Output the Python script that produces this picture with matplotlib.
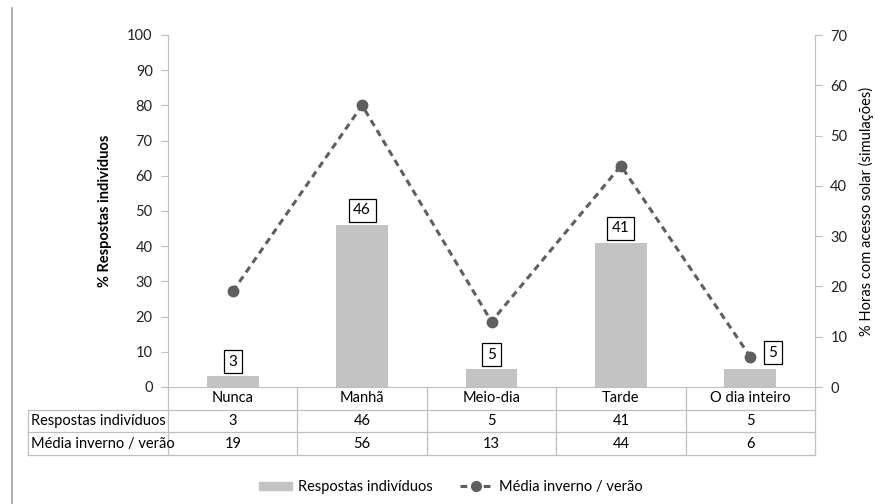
import numpy as np
import matplotlib.pyplot as plt
from matplotlib.lines import Line2D
from matplotlib.patches import Patch

plt.rcParams['font.family'] = ['Lato', 'DejaVu Sans']
plt.rcParams['font.size'] = 10.5

# Data
categorias = ['Nunca', 'Manhã', 'Meio-dia', 'Tarde', 'O dia inteiro']
respostas = [3, 46, 5, 41, 5]          # % respostas indivíduos (eixo esquerdo)
media_inv_ver = [19, 56, 13, 44, 6]    # % horas com acesso solar (eixo direito)
nome_barras = 'Respostas indivíduos'
nome_linha = 'Média inverno / verão'

BAR_COLOR = '#c3c3c3'
LINE_COLOR = '#5f5f5f'
AXIS_COLOR = '#bfbfbf'

W, H = 875, 504
fig = plt.figure(figsize=(W / 100, H / 100), dpi=100)

# plot area in pixels
x0, x1, ytop, ybot = 168, 815, 35, 387
ax = fig.add_axes([x0 / W, 1 - ybot / H, (x1 - x0) / W, (ybot - ytop) / H])
ax2 = ax.twinx()

x = np.arange(len(categorias))
bars = ax.bar(x, respostas, width=0.4, color=BAR_COLOR, zorder=2)
ax2.plot(x, media_inv_ver, color=LINE_COLOR, lw=2.2, ls=(0, (2.2, 1.6)),
         marker='o', ms=7.5, zorder=3)

ax.set_xlim(-0.5, len(categorias) - 0.5)
ax.set_ylim(0, 100)
ax.set_yticks(range(0, 101, 10))
ax2.set_ylim(0, 70)
ax2.set_yticks(range(0, 71, 10))
ax.set_xticks([])

for a in (ax, ax2):
    for s in a.spines.values():
        s.set_visible(False)
    a.tick_params(axis='y', length=5, width=0.8, color=AXIS_COLOR,
                  labelsize=10.5, labelcolor='#222222', pad=6)
ax.spines['left'].set_visible(True)
ax.spines['left'].set_color(AXIS_COLOR)
ax2.spines['right'].set_visible(True)
ax2.spines['right'].set_color(AXIS_COLOR)
ax.spines['bottom'].set_visible(True)
ax.spines['bottom'].set_color(AXIS_COLOR)

ax.set_ylabel('% Respostas indivíduos', fontweight='bold', fontsize=10.5,
              labelpad=11)
ax2.set_ylabel('% Horas com acesso solar (simulações)', fontsize=10.5,
               labelpad=8)

# value boxes above the bars
box = dict(boxstyle='square,pad=0.3', fc='white', ec='black', lw=0.9)
for i, v in enumerate(respostas):
    off = (0, 10.5) if i < len(respostas) - 1 else (16, 12)
    ax.annotate(str(v), (x[i], v), xytext=off, textcoords='offset points',
                ha='center', va='center', fontsize=11, bbox=box, zorder=5)

# data table under the plot
ph = ybot - ytop
row_h = 22.7 / ph
lab_left = (28 - x0) / (x1 - x0)
tr = ax.transAxes
lk = dict(color=AXIS_COLOR, lw=0.9, transform=tr, clip_on=False)
for k in range(1, 4):
    yy = -k * row_h
    ax.add_line(Line2D([lab_left, 1], [yy, yy], **lk))
for k in range(len(categorias) + 1):
    xx = k / len(categorias)
    ax.add_line(Line2D([xx, xx], [0, -3 * row_h], **lk))
ax.add_line(Line2D([lab_left, lab_left], [-row_h, -3 * row_h], **lk))

for i, c in enumerate(categorias):
    xc = (i + 0.5) / len(categorias)
    ax.text(xc, -0.5 * row_h, c, transform=tr, ha='center', va='center')
    ax.text(xc, -1.5 * row_h, str(respostas[i]), transform=tr,
            ha='center', va='center')
    ax.text(xc, -2.5 * row_h, str(media_inv_ver[i]), transform=tr,
            ha='center', va='center')
ax.text(lab_left + 0.005, -1.5 * row_h, nome_barras, transform=tr,
        ha='left', va='center')
ax.text(lab_left + 0.005, -2.5 * row_h, nome_linha, transform=tr,
        ha='left', va='center')

# legend
handles = [Patch(color=BAR_COLOR),
           Line2D([], [], color=LINE_COLOR, lw=2.2, ls=(0, (2.2, 1.6)),
                  marker='o', ms=7)]
fig.legend(handles, [nome_barras, nome_linha], loc='center',
           bbox_to_anchor=(0.515, 1 - 487 / H), ncol=2, frameon=False,
           handlelength=2.25, handleheight=0.5, columnspacing=1.9,
           handletextpad=0.4, fontsize=10.5)

# thin border on the left edge
fig.add_artist(Line2D([12 / W, 12 / W], [0, 1 - 8 / H], color='#a0a0a0',
                      lw=1.2, transform=fig.transFigure))

fig.savefig('out.png', dpi=100)
